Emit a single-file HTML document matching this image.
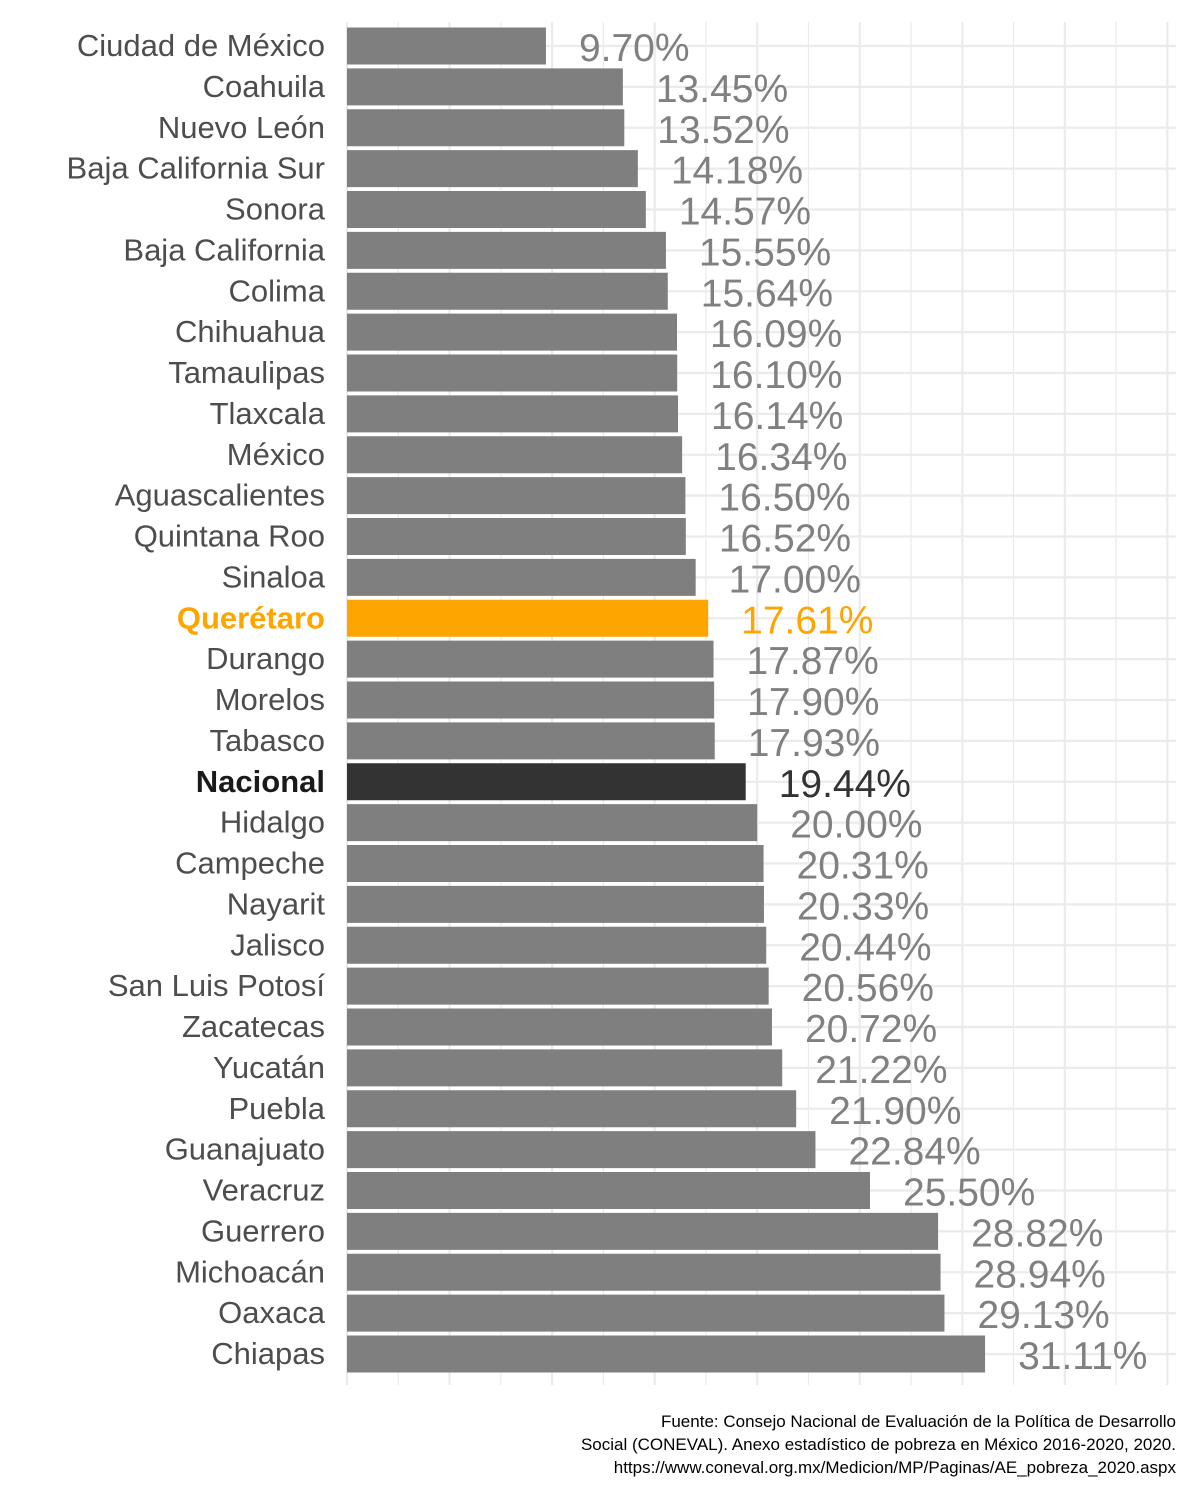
<!DOCTYPE html>
<html><head><meta charset="utf-8"><style>
body{margin:0;background:#fff;}
svg{display:block;font-family:"Liberation Sans",sans-serif;}
</style></head><body>
<svg id="chart" width="1200" height="1500" viewBox="0 0 1200 1500">
<g id="grid"></g>
<g id="bars"></g>
<g id="labels"></g>
<g font-size="17" fill="#000" text-anchor="end">
<text x="1176" y="1427">Fuente: Consejo Nacional de Evaluación de la Política de Desarrollo</text>
<text x="1176" y="1450">Social (CONEVAL). Anexo estadístico de pobreza en México 2016-2020, 2020.</text>
<text x="1176" y="1473">https://www.coneval.org.mx/Medicion/MP/Paginas/AE_pobreza_2020.aspx</text>
</g>
</svg>
<script>
const states=["Ciudad de México","Coahuila","Nuevo León","Baja California Sur","Sonora","Baja California","Colima","Chihuahua","Tamaulipas","Tlaxcala","México","Aguascalientes","Quintana Roo","Sinaloa","Querétaro","Durango","Morelos","Tabasco","Nacional","Hidalgo","Campeche","Nayarit","Jalisco","San Luis Potosí","Zacatecas","Yucatán","Puebla","Guanajuato","Veracruz","Guerrero","Michoacán","Oaxaca","Chiapas"];
const values=[9.70,13.45,13.52,14.18,14.57,15.55,15.64,16.09,16.10,16.14,16.34,16.50,16.52,17.00,17.61,17.87,17.90,17.93,19.44,20.00,20.31,20.33,20.44,20.56,20.72,21.22,21.90,22.84,25.50,28.82,28.94,29.13,31.11];
const xTicks=[0,2.5,5,7.5,10,12.5,15,17.5,20,22.5,25,27.5,30,32.5,35,37.5,40];
const NS="http://www.w3.org/2000/svg";
const x0=347,pxPer=20.51,y0=46,step=40.875,bh=37,yTop=22,yBot=1385;
const xs=v=>x0+v*pxPer, ys=i=>y0+i*step;
function mk(tag,attrs,parent){const e=document.createElementNS(NS,tag);for(const k in attrs)e.setAttribute(k,attrs[k]);parent.appendChild(e);return e;}
const grid=document.getElementById('grid'),bars=document.getElementById('bars'),labels=document.getElementById('labels');
xTicks.forEach(t=>{const x=xs(t);if(x>1176)return;
const l=mk('line',{x1:x,x2:x,y1:yTop,y2:yBot,stroke:'#ebebeb','stroke-width':(t%5===0)?2.2:1.2},grid);

});
states.forEach((s,i)=>{const y=ys(i);
const g=mk('line',{x1:x0,x2:1176,y1:y,y2:y,stroke:'#ebebeb','stroke-width':2.2},grid);

});
states.forEach((s,i)=>{const y=ys(i),v=values[i];
const col=s==="Querétaro"?"#ffa500":(s==="Nacional"?"#333333":"#7f7f7f");
const tcol=s==="Querétaro"?"#ffa500":(s==="Nacional"?"#1a1a1a":"#4d4d4d");
const vcol=s==="Querétaro"?"#ffa500":(s==="Nacional"?"#333333":"#808080");
const r=mk('rect',{x:x0,y:y-bh/2,width:xs(v)-x0,height:bh,fill:col},bars);


const t=mk('text',{x:325,y:y+10,'text-anchor':'end','font-size':31,fill:tcol,'font-weight':(s==="Querétaro"||s==="Nacional")?'bold':'normal'},labels);
t.textContent=s;


const vt=mk('text',{x:xs(v)+33,y:y+15,'font-size':39,fill:vcol},labels);
vt.textContent=v.toFixed(2)+'%';

});
</script>
</body></html>
